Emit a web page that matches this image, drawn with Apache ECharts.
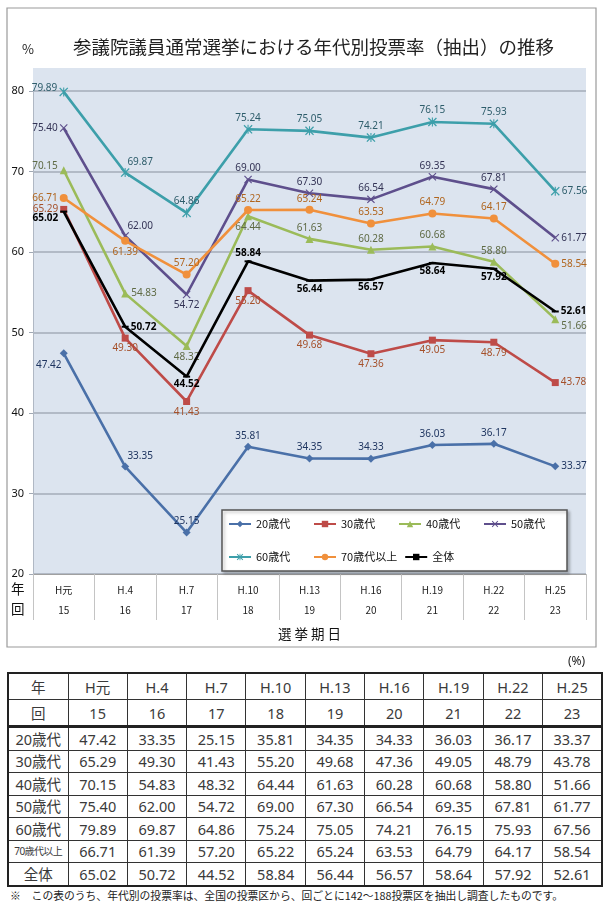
<!DOCTYPE html>
<html>
<head>
<meta charset="utf-8">
<script src="https://cdn.jsdelivr.net/npm/echarts@6/dist/echarts.min.js"></script>
<style>
  html, body { margin: 0; padding: 0; background: #fff; }
  #wrap { position: relative; width: 610px; height: 913px; overflow: hidden; font-family: "Noto Sans", "Noto Sans CJK JP", sans-serif; }
  #chart { position: absolute; left: 0; top: 0; width: 610px; height: 660px; }
  #unit { position: absolute; left: 568px; top: 652px; font-size: 12px; color: #222; }
  #tbl { position: absolute; left: 7px; top: 672px; width: 596px; border-collapse: collapse; table-layout: fixed; border: 2px solid #222; }
  #tbl td { border: 1.3px solid #333; text-align: center; padding: 0; font-size: 14.5px; font-weight: 400; color: #3a3a3a; height: 21.5px; line-height: 20px; }
  #tbl tr.hdr td { height: 25px; }
  #tbl tr.sep td { border-bottom: 3.5px solid #222; }
  #tbl td.small { font-size: 10px; letter-spacing: -0.6px; }
  #note { position: absolute; left: 10px; top: 887px; font-size: 10.8px; color: #222; white-space: nowrap; font-family: "Noto Sans CJK JP", sans-serif; }
</style>
</head>
<body>
<div id="wrap">
  <div id="chart"></div>
  <div id="unit">(%)</div>
  <table id="tbl"></table>
  <div id="note">※　この表のうち、年代別の投票率は、全国の投票区から、回ごとに142～188投票区を抽出し調査したものです。</div>
</div>
<script>
// ---- data ----
const years = ['H元', 'H.4', 'H.7', 'H.10', 'H.13', 'H.16', 'H.19', 'H.22', 'H.25'];
const rounds = ['15', '16', '17', '18', '19', '20', '21', '22', '23'];
const seriesNames = ['20歳代', '30歳代', '40歳代', '50歳代', '60歳代', '70歳代以上', '全体'];
const s20 = [47.42, 33.35, 25.15, 35.81, 34.35, 34.33, 36.03, 36.17, 33.37];
const s30 = [65.29, 49.30, 41.43, 55.20, 49.68, 47.36, 49.05, 48.79, 43.78];
const s40 = [70.15, 54.83, 48.32, 64.44, 61.63, 60.28, 60.68, 58.80, 51.66];
const s50 = [75.40, 62.00, 54.72, 69.00, 67.30, 66.54, 69.35, 67.81, 61.77];
const s60 = [79.89, 69.87, 64.86, 75.24, 75.05, 74.21, 76.15, 75.93, 67.56];
const s70 = [66.71, 61.39, 57.20, 65.22, 65.24, 63.53, 64.79, 64.17, 58.54];
const sAll = [65.02, 50.72, 44.52, 58.84, 56.44, 56.57, 58.64, 57.92, 52.61];
const yTicks = [20, 30, 40, 50, 60, 70, 80];

// ---- styles (separate from data) ----
const lineColors = ['#4a70a8', '#be4b48', '#9bbb59', '#5e4f8c', '#3d9faa', '#f0903c', '#000000'];
const labelColors = ['#1f3560', '#a5502a', '#5f6b45', '#333355', '#2e5d6b', '#b0651e', '#000000'];
const X_PATH = 'path://M0,1L1,0L5,4L9,0L10,1L6,5L10,9L9,10L5,6L1,10L0,9L4,5Z';
const STAR_PATH = 'path://M0,1L1,0L5,4L9,0L10,1L6,5L10,9L9,10L5,6L1,10L0,9L4,5Z M4.4,0L5.6,0L5.6,10L4.4,10Z';
const symbols = ['diamond', 'rect', 'triangle', X_PATH, STAR_PATH, 'circle', 'rect'];
const symbolSizes = [8, 7, 8, 8, 9, 8, [7, 2]];
const labelPlan = [
  ['bl', 'tr', 't', 't', 't', 't', 't', 't', 'r'],
  ['l', 'b', 'b', 'b', 'b', 'b', 'b', 'b', 'r'],
  ['lt', 'r', 'b', 'b', 't', 't', 't', 't', 'rb'],
  ['l', 'tr', 'b', 't', 't', 't', 't', 't', 'r'],
  ['lt', 'tr', 't', 't', 't', 't', 't', 't', 'r'],
  ['l', 'b', 't', 't', 't', 't', 't', 't', 'r'],
  ['lb', 'r', 'b', 't', 'b', 'b', 'b', 'b', 'r']
];
function labelOf(code) {
  switch (code) {
    case 'l': return { position: 'left', distance: 2 };
    case 'lt': return { position: 'left', distance: 2, offset: [0, -4] };
    case 'lb': return { position: 'left', distance: 2, offset: [0, 7] };
    case 'r': return { position: 'right', distance: 2 };
    case 'rb': return { position: 'right', distance: 2, offset: [0, 7] };
    case 't': return { position: 'top', distance: 2 };
    case 'tr': return { position: 'top', distance: 1, offset: [15, 0] };
    case 'b': return { position: 'bottom', distance: 2 };
    case 'bl': return { position: 'bottom', distance: 3, offset: [-15, 0] };
  }
  return {};
}
const allData = [s20, s30, s40, s50, s60, s70, sAll];

const series = allData.map((vals, si) => ({
  name: seriesNames[si],
  type: 'line',
  data: vals.map((v, i) => ({ value: v, label: labelOf(labelPlan[si][i]) })),
  symbol: symbols[si],
  symbolSize: symbolSizes[si],
  showAllSymbol: true,
  lineStyle: { color: lineColors[si], width: 2.6 },
  itemStyle: { color: lineColors[si] },
  z: 3 + si,
  label: {
    show: true,
    fontSize: 10,
    fontFamily: 'Noto Sans',
    fontWeight: si === 6 ? 'bold' : 'normal',
    color: labelColors[si],
    formatter: p => p.value.toFixed(2)
  },
  emphasis: { disabled: true },
  animation: false
}));

const chart = echarts.init(document.getElementById('chart'), null, { renderer: 'canvas' });
chart.setOption({
  animation: false,
  title: {
    text: '参議院議員通常選挙における年代別投票率（抽出）の推移',
    left: 68, top: 33,
    textStyle: { fontSize: 18.5, fontWeight: 'normal', color: '#222', fontFamily: 'Noto Sans CJK JP' }
  },
  grid: { left: 33, right: 24, top: 91, bottom: 86 },
  graphic: [
    { type: 'rect', z: -20, silent: true, shape: { x: 7, y: 8, width: 589, height: 639 }, style: { fill: '#fff', stroke: '#9a9a9a', lineWidth: 1.2 } },
    { type: 'rect', z: -10, silent: true, shape: { x: 33, y: 68, width: 553, height: 506 }, style: { fill: '#dce4ef' } },
    { type: 'text', left: 22, top: 43, style: { text: '%', fontSize: 13, fill: '#222', fontFamily: 'Noto Sans CJK JP' } },
    { type: 'text', left: 11, top: 582, style: { text: '年', fontSize: 13.5, fill: '#111', fontFamily: 'Noto Sans CJK JP' } },
    { type: 'text', left: 11, top: 602, style: { text: '回', fontSize: 13.5, fill: '#111', fontFamily: 'Noto Sans CJK JP' } }
  ],
  legend: {
    data: seriesNames,
    left: 222, top: 510,
    width: 345,
    orient: 'horizontal',
    itemWidth: 22, itemHeight: 8, itemGap: 7,
    padding: [1, 6, 1, 6],
    backgroundColor: '#fff',
    borderColor: '#555', borderWidth: 1.5,
    shadowColor: 'rgba(0,0,0,0.25)', shadowBlur: 3, shadowOffsetX: 2, shadowOffsetY: 2,
    textStyle: { fontSize: 11, color: '#111', width: 50, lineHeight: 26, fontFamily: 'Noto Sans CJK JP' }
  },
  xAxis: {
    type: 'category',
    data: years,
    boundaryGap: true,
    name: '選 挙 期 日',
    nameLocation: 'middle',
    nameGap: 53,
    nameTextStyle: { fontSize: 13.5, color: '#111', fontFamily: 'Noto Sans CJK JP' },
    axisLine: { show: true, lineStyle: { color: '#a0a0a0', width: 1.2 } },
    axisTick: { show: true, interval: 0, length: 46, lineStyle: { color: '#c4c4c4' } },
    axisLabel: {
      interval: 0, margin: 6, fontSize: 10, lineHeight: 20, color: '#222', fontFamily: 'Noto Sans CJK JP',
      formatter: (v, i) => v + '\n' + rounds[i]
    }
  },
  yAxis: {
    type: 'value',
    min: yTicks[0], max: yTicks[yTicks.length - 1], interval: 10,
    axisLine: { show: true, lineStyle: { color: '#b0b8c4' } },
    axisTick: { show: true, length: 4, lineStyle: { color: '#a0a8b4' } },
    axisLabel: { fontSize: 11, color: '#111', margin: 9, fontFamily: 'Noto Sans' },
    splitLine: { show: true, lineStyle: { color: '#a4acb8', width: 1.5 } }
  },
  series: series
});

// ---- table ----
const tbl = document.getElementById('tbl');
let html = '<colgroup><col style="width:60px">' + years.map(() => '<col>').join('') + '</colgroup>';
html += '<tr class="hdr"><td>年</td>' + years.map(y => '<td>' + y + '</td>').join('') + '</tr>';
html += '<tr class="hdr sep"><td>回</td>' + rounds.map(r => '<td>' + r + '</td>').join('') + '</tr>';
allData.forEach((vals, si) => {
  const name = seriesNames[si];
  const cls = name.length > 4 ? ' class="small"' : '';
  html += '<tr><td' + cls + '>' + name + '</td>' + vals.map(v => '<td>' + v.toFixed(2) + '</td>').join('') + '</tr>';
});
tbl.innerHTML = html;
</script>
</body>
</html>
